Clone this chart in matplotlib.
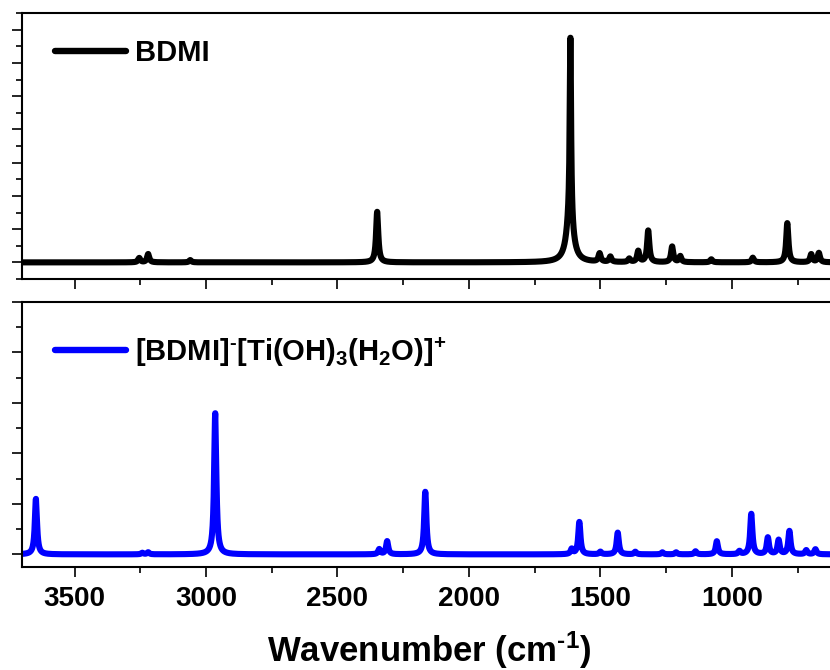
import numpy as np
import matplotlib
matplotlib.use("Agg")
import matplotlib.pyplot as plt
from matplotlib.ticker import MultipleLocator

plt.rcParams["font.family"] = ["Liberation Sans", "DejaVu Sans"]
plt.rcParams["font.weight"] = "bold"
plt.rcParams["mathtext.fontset"] = "custom"
plt.rcParams["mathtext.rm"] = "Liberation Sans:bold"
plt.rcParams["mathtext.it"] = "Liberation Sans:bold"
plt.rcParams["mathtext.bf"] = "Liberation Sans:bold"

# ── Peak tables (wavenumber, intensity, FWHM in cm-1) ─────────────────────────
bdmi_pos = [3254, 3220, 3060, 2349, 1616, 1614, 1503, 1462, 1390, 1356,
            1318, 1227, 1196, 1078, 920, 789, 698, 669]
bdmi_int = [0.13, 0.25, 0.07, 1.52, 1.35, 5.45, 0.25, 0.16, 0.10, 0.33,
            0.95, 0.47, 0.18, 0.09, 0.14, 1.18, 0.24, 0.28]
bdmi_fwhm = [10, 10, 10, 10, 30, 6, 10, 10, 10, 10,
             10, 10, 10, 10, 10, 10, 10, 10]

ti_pos = [3647, 3242, 3220, 2965, 2341, 2311, 2166, 1609, 1580, 1500, 1434,
          1367, 1264, 1212, 1138, 1057, 971, 926, 863, 822, 781, 717, 682]
ti_int = [1.10, 0.03, 0.04, 2.80, 0.10, 0.26, 1.24, 0.10, 0.64, 0.05, 0.43,
          0.05, 0.04, 0.04, 0.06, 0.26, 0.06, 0.80, 0.33, 0.28, 0.46, 0.08, 0.10]
ti_fwhm = [10] * len(ti_pos)

bdmi_label = "BDMI"
ti_label = "[BDMI]$^{\u2010}$[Ti(OH)$_{3}$(H$_{2}$O)]$^{+}$"
x_label = "Wavenumber (cm$^{\u20101}$)"


def broaden(x, positions, intensities, fwhm):
    """Sum of Lorentzian lines."""
    y = np.zeros_like(x)
    for x0, h, w in zip(positions, intensities, fwhm):
        g = w / 2.0
        y += h * g ** 2 / ((x - x0) ** 2 + g ** 2)
    return y


wn = np.linspace(600, 3700, 8000)

W, H = 830, 670
fig = plt.figure(figsize=(W / 100, H / 100), dpi=100)
ax_top = fig.add_axes([22 / W, (H - 279) / H, 815 / W, 266 / H])
ax_bot = fig.add_axes([22 / W, (H - 567) / H, 815 / W, 265 / H])

ax_top.plot(wn, broaden(wn, bdmi_pos, bdmi_int, bdmi_fwhm), color="black",
            lw=4.4, solid_capstyle="round", label=bdmi_label)
ax_bot.plot(wn, broaden(wn, ti_pos, ti_int, ti_fwhm), color="#0000ff",
            lw=4.4, solid_capstyle="round", label=ti_label)

ax_top.set_ylim(-0.5, 7.5)
ax_bot.set_ylim(-0.25, 5.0)

for ax in (ax_top, ax_bot):
    ax.set_xlim(3700, 600)
    ax.xaxis.set_major_locator(MultipleLocator(500))
    ax.xaxis.set_minor_locator(MultipleLocator(250))
    ax.yaxis.set_major_locator(MultipleLocator(1))
    ax.yaxis.set_minor_locator(MultipleLocator(0.5))
    ax.tick_params(which="major", direction="out", length=7.5, width=1.2,
                   labelsize=20, pad=6)
    ax.tick_params(which="minor", direction="out", length=4.5, width=1.2)
    ax.tick_params(axis="y", which="both", labelleft=False)
    for sp in ax.spines.values():
        sp.set_linewidth(1.5)
    leg = ax.legend(loc="center left", frameon=False, fontsize=21,
                    handlelength=2.45, handletextpad=0.28, borderpad=0,
                    borderaxespad=0)
    for line in leg.get_lines():
        line.set_linewidth(4.6)

ax_top.legend_.set_bbox_to_anchor((33 / 815, 1 - 40 / 266))
ax_bot.legend_.set_bbox_to_anchor((33 / 815, 1 - 50 / 265))

ax_top.tick_params(axis="x", labelbottom=False)
ax_bot.set_xlabel(x_label, fontsize=25, fontweight="bold", labelpad=13)

fig.savefig("out.png", dpi=100)
